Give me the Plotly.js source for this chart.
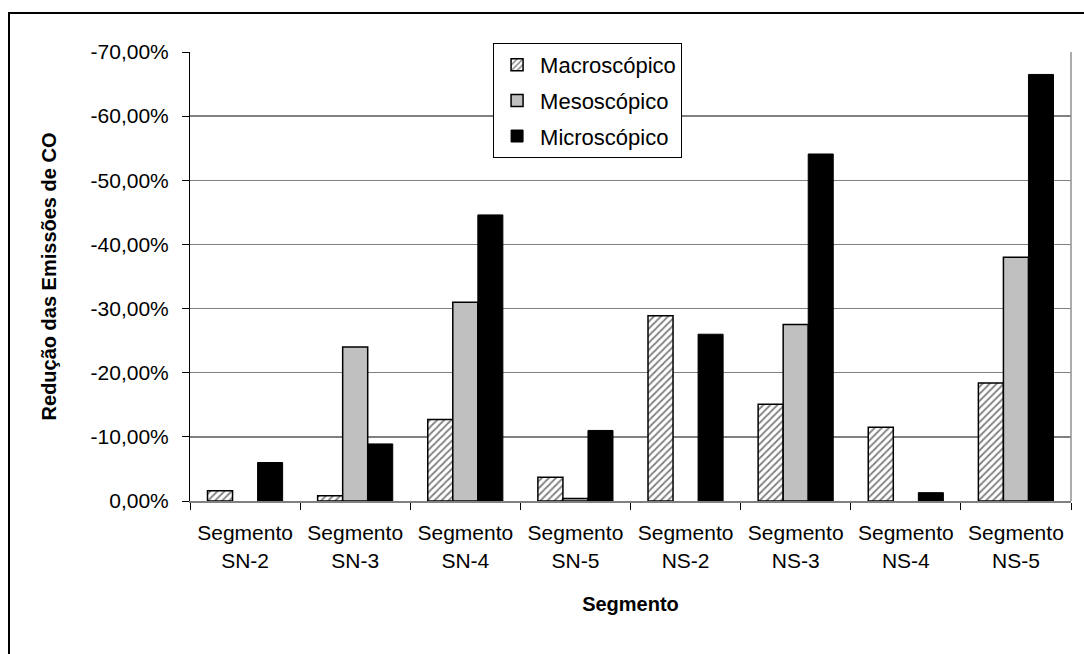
<!DOCTYPE html>
<html>
<head>
<meta charset="utf-8">
<script src="https://cdn.plot.ly/plotly-3.0.1.min.js"></script>
<style>
  html, body { margin: 0; padding: 0; background: #fff; overflow: hidden; }
  #chart { width: 1084px; height: 654px; }
  #frame { position: absolute; left: 8px; top: 12px; width: 1300px; height: 900px;
           border-left: 2px solid #000; border-top: 2px solid #000; pointer-events: none; }
</style>
</head>
<body>
<div id="chart"></div>
<div id="frame"></div>
<script>
const categories = ["Segmento<br>SN-2", "Segmento<br>SN-3", "Segmento<br>SN-4", "Segmento<br>SN-5",
                    "Segmento<br>NS-2", "Segmento<br>NS-3", "Segmento<br>NS-4", "Segmento<br>NS-5"];
const macroscopico = [-1.6, -0.8, -12.7, -3.7, -28.9, -15.1, -11.5, -18.4];
const mesoscopico  = [null, -24.0, -31.0, -0.4, null, -27.5, null, -38.0];
const microscopico = [-6.0, -8.9, -44.6, -11.0, -26.0, -54.1, -1.3, -66.5];
const tickValues = [0, -10, -20, -30, -40, -50, -60, -70];
const tickLabels = ["0,00%", "-10,00%", "-20,00%", "-30,00%", "-40,00%", "-50,00%", "-60,00%", "-70,00%"];

const font = "Arial, 'Liberation Sans', sans-serif";

const traces = [
  {
    type: "bar", name: "Macroscópico", x: categories, y: macroscopico,
    legendgroup: "a",
    marker: {
      color: "#ffffff",
      pattern: { shape: "/", fgcolor: "#808080", bgcolor: "#ffffff", size: 5, solidity: 0.35 },
      line: { color: "#000000", width: 1.5 }
    }
  },
  {
    type: "bar", name: "Mesoscópico", x: categories, y: mesoscopico,
    legendgroup: "b",
    marker: { color: "#c0c0c0", line: { color: "#000000", width: 1.5 } }
  },
  {
    type: "bar", name: "Microscópico", x: categories, y: microscopico,
    legendgroup: "c",
    marker: { color: "#000000", line: { color: "#000000", width: 1 } }
  }
];

const layout = {
  width: 1084, height: 654,
  margin: { l: 190, r: 13, t: 52, b: 153 },
  paper_bgcolor: "#ffffff", plot_bgcolor: "#ffffff",
  font: { family: font, color: "#000000", size: 21 },
  barmode: "group", bargap: 0.318, bargroupgap: 0,
  showlegend: true,
  legend: {
    x: 0.344, xanchor: "left", y: 1.02, yanchor: "top",
    bgcolor: "#ffffff", bordercolor: "#000000", borderwidth: 1,
    font: { family: font, size: 22, color: "#000000" },
    traceorder: "grouped", tracegroupgap: 4,
    itemwidth: 36
  },
  xaxis: {
    type: "category",
    tickson: "boundaries",
    ticks: "outside", ticklen: 7, tickcolor: "#000000", tickwidth: 1,
    ticklabelstandoff: 12,
    showline: true, linecolor: "#808080", linewidth: 2,
    showgrid: false, zeroline: false,
    tickfont: { family: font, size: 21, color: "#000000" },
    title: { text: "<b>Segmento</b>", font: { family: font, size: 20, color: "#000000" }, standoff: 26 },
    fixedrange: true
  },
  yaxis: {
    range: [0, -70],
    tickmode: "array", tickvals: tickValues, ticktext: tickLabels,
    ticks: "outside", ticklen: 7, tickcolor: "#000000", tickwidth: 1,
    ticklabelstandoff: 9,
    showline: true, linecolor: "#000000", linewidth: 1,
    showgrid: true, gridcolor: "#808080", gridwidth: 1.3,
    zeroline: false,
    tickfont: { family: font, size: 21, color: "#000000" },
    title: { text: "<b>Redução das Emissões de CO</b>", font: { family: font, size: 20, color: "#000000" }, standoff: 28 },
    fixedrange: true
  },
  shapes: [
    { type: "line", xref: "paper", yref: "paper", x0: 1, x1: 1, y0: 0, y1: 1,
      line: { color: "#909090", width: 1.5 } }
  ],
  hovermode: false
};

Plotly.newPlot("chart", traces, layout, { displayModeBar: false, staticPlot: true });
</script>
</body>
</html>
